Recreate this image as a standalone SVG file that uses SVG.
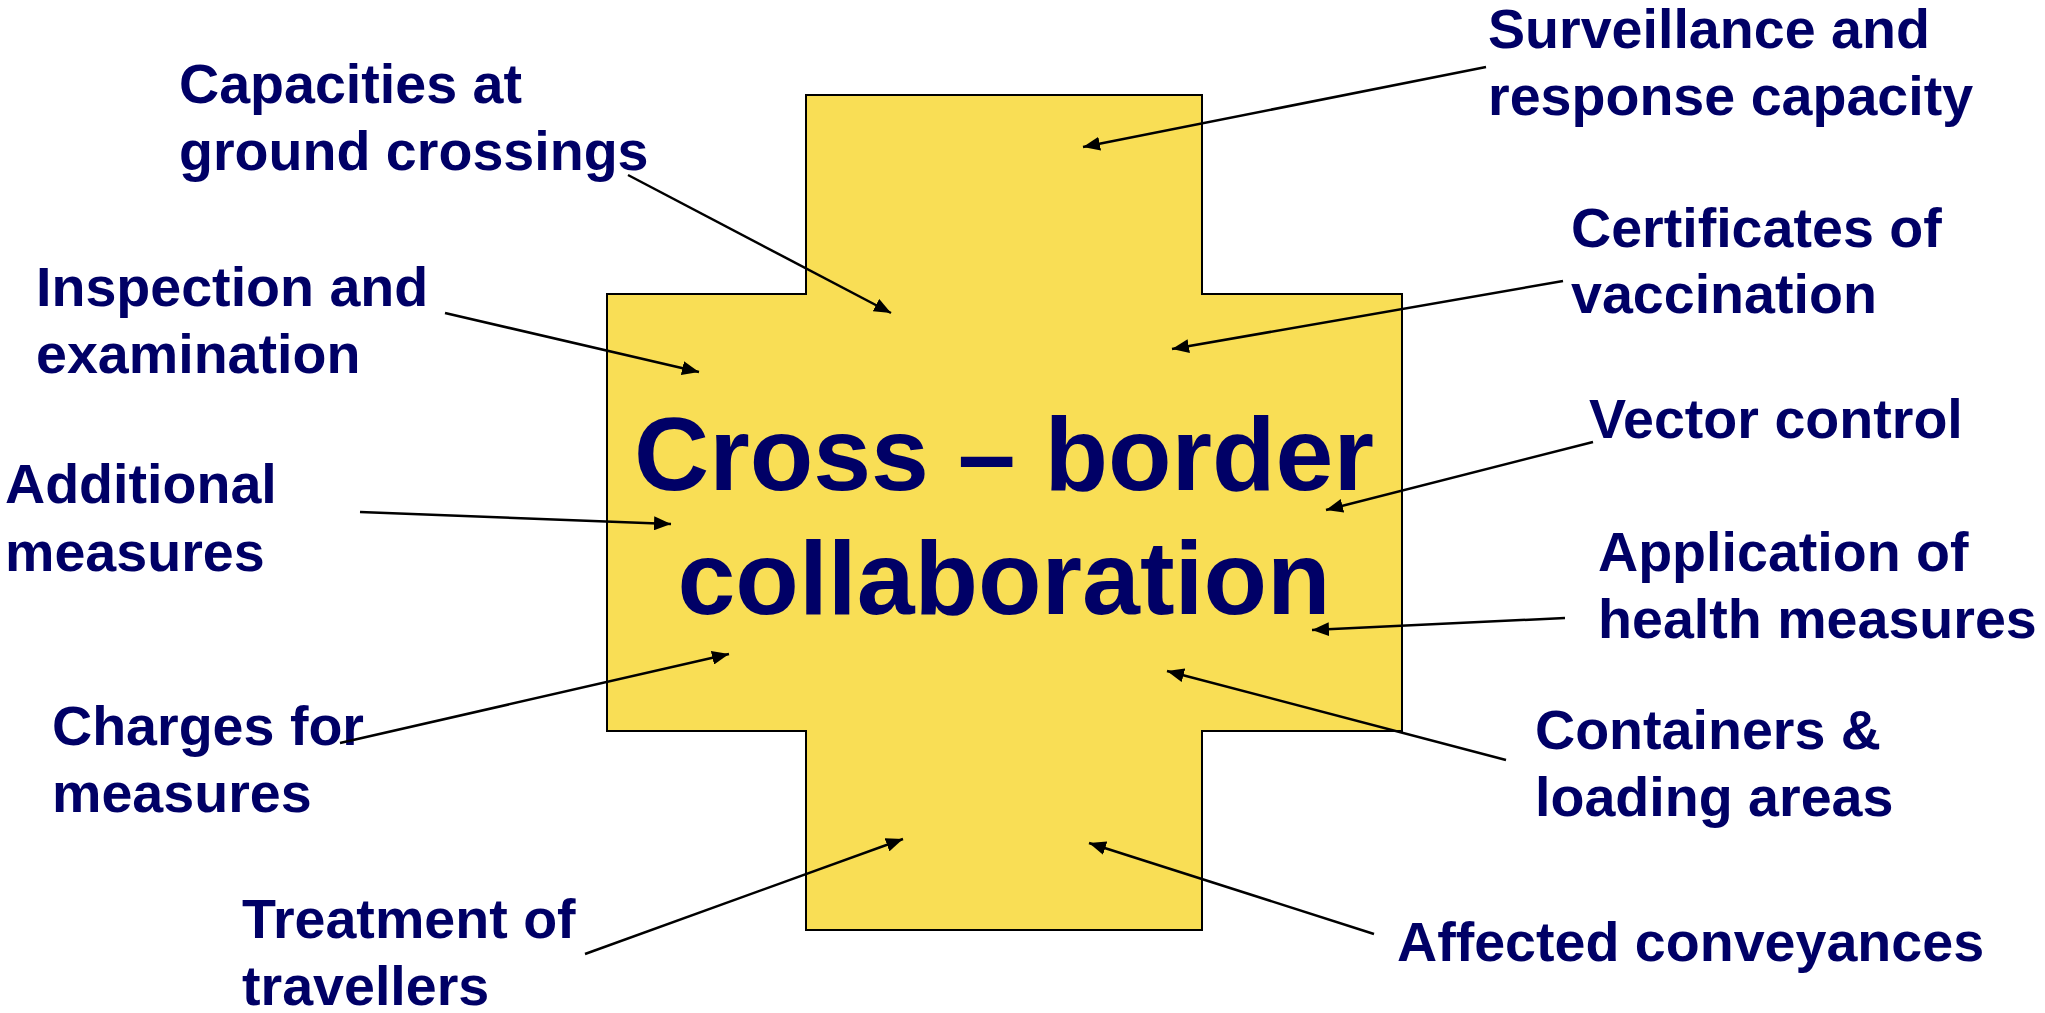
<svg xmlns="http://www.w3.org/2000/svg" width="2045" height="1013" viewBox="0 0 2045 1013">
<style>
.lbl{font-family:"Liberation Sans",Arial,sans-serif;font-weight:bold;font-size:55.6px;fill:#000066}
.big{font-family:"Liberation Sans",Arial,sans-serif;font-weight:bold;font-size:104px;fill:#000066}
.con{stroke:#000;stroke-width:2.5;fill:none;marker-end:url(#ah)}
</style>
<defs>
<marker id="ah" markerUnits="userSpaceOnUse" markerWidth="18" markerHeight="14" refX="17" refY="7" orient="auto" viewBox="0 0 18 14">
<path d="M0,0 L17,7 L0,14 z" fill="#000"/>
</marker>
</defs>
<rect width="2045" height="1013" fill="#fff"/>
<g id="cross">
<path d="M806,95 H1202 V294 H1402 V731 H1202 V930 H806 V731 H607 V294 H806 Z" fill="#F9DE55" stroke="#000" stroke-width="2"/>
<text class="big" text-anchor="middle" x="1004" y="490">Cross – border</text>
<text class="big" text-anchor="middle" x="1004" y="614">collaboration</text>
</g>
<g id="capacities"><text class="lbl" x="179" y="103">Capacities at</text><text class="lbl" x="179" y="170">ground crossings</text></g>
<g id="inspection"><text class="lbl" x="36" y="306">Inspection and</text><text class="lbl" x="36" y="373">examination</text></g>
<g id="additional"><text class="lbl" x="5" y="503">Additional</text><text class="lbl" x="5" y="571">measures</text></g>
<g id="charges"><text class="lbl" x="52" y="745">Charges for</text><text class="lbl" x="52" y="812">measures</text></g>
<g id="treatment"><text class="lbl" x="242" y="938">Treatment of</text><text class="lbl" x="242" y="1005">travellers</text></g>
<g id="surveillance"><text class="lbl" x="1488" y="48">Surveillance and</text><text class="lbl" x="1488" y="115">response capacity</text></g>
<g id="certificates"><text class="lbl" x="1571" y="247">Certificates of</text><text class="lbl" x="1571" y="313">vaccination</text></g>
<g id="vector"><text class="lbl" x="1589" y="438">Vector control</text></g>
<g id="application"><text class="lbl" x="1598" y="571">Application of</text><text class="lbl" x="1598" y="638">health measures</text></g>
<g id="containers"><text class="lbl" x="1535" y="749">Containers &amp;</text><text class="lbl" x="1535" y="816">loading areas</text></g>
<g id="affected"><text class="lbl" x="1397" y="961">Affected conveyances</text></g>
<g id="connectors">
<line class="con" x1="628" y1="175" x2="891" y2="313"/>
<line class="con" x1="445" y1="313" x2="699" y2="372"/>
<line class="con" x1="360" y1="512" x2="671" y2="524"/>
<line class="con" x1="340" y1="743" x2="729" y2="654"/>
<line class="con" x1="585" y1="954" x2="903" y2="839"/>
<line class="con" x1="1486" y1="67" x2="1083" y2="147"/>
<line class="con" x1="1563" y1="281" x2="1172" y2="349"/>
<line class="con" x1="1593" y1="442" x2="1326" y2="510"/>
<line class="con" x1="1565" y1="618" x2="1312" y2="630"/>
<line class="con" x1="1506" y1="760" x2="1167" y2="671"/>
<line class="con" x1="1374" y1="934" x2="1089" y2="843"/>
</g>
</svg>
